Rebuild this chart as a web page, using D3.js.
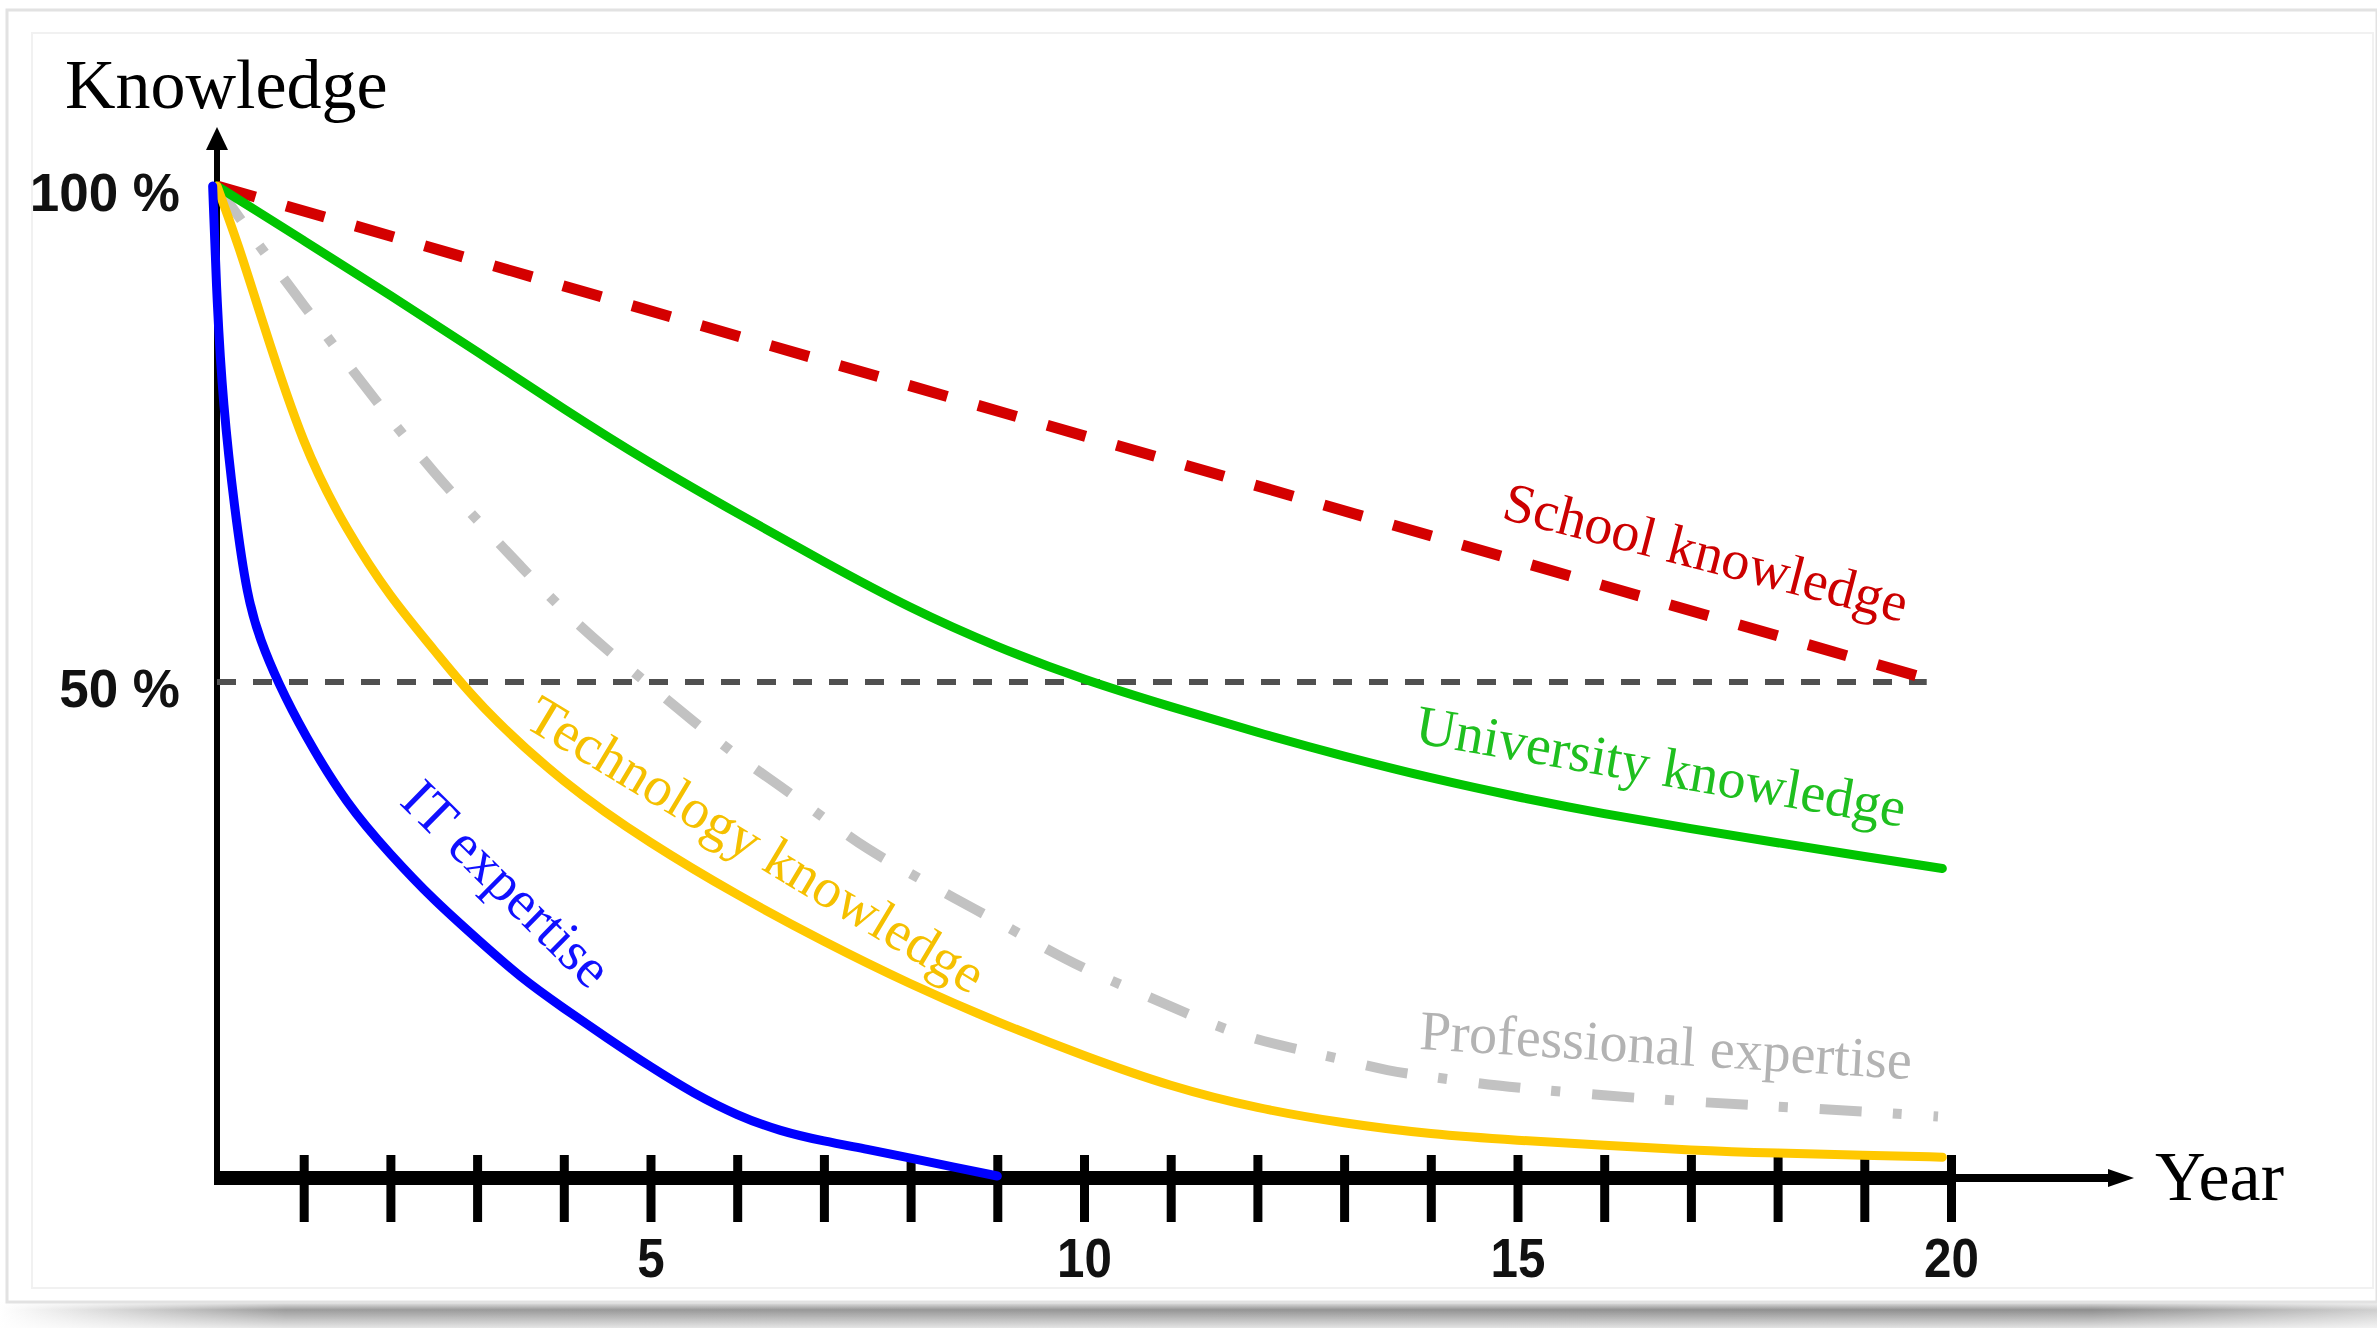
<!DOCTYPE html>
<html><head><meta charset="utf-8">
<script src="https://cdn.jsdelivr.net/npm/d3@7"></script>
<style>
body{margin:0;background:#fff;}
svg{display:block;}
</style>
</head><body>
<svg id="chart" width="2377" height="1328"></svg>
<script>
// ---------- data ----------
const tickYears = d3.range(1, 21);
const yearLabels = [5, 10, 15, 20];
const pctTicks = [100, 50];
const pctLabels = ["100 %", "50 %"];
const seriesNames = ["School knowledge", "University knowledge", "Professional expertise", "Technology knowledge", "IT expertise"];

const schoolYears = [0, 19.65];
const schoolValues = [100, 50.5];

const universityYears = [0,1,2,3,4,5,6,7,8,9,10,11,12,13,14,15,16,17,18,19,19.9];
const universityValues = [100,94.5,89,83.3,77.5,72,67,62.1,57.4,53.5,50.2,47.5,44.9,42.5,40.3,38.4,36.7,35.2,33.8,32.4,31.2];

const professionalYears = [0,0.5,1,1.5,2,2.5,3,3.5,4,4.5,5,5.5,6,6.5,7,7.5,8,8.5,9,9.5,10,10.5,11,11.5,12,12.5,13,13.5,14,14.5,15,16,17,18,19,19.85];
const professionalValues = [100,93.8,88,82.1,76.5,71.1,66.3,61.7,57.1,53.2,49.6,46,42.5,39.5,36.3,33.1,30.7,28.2,25.9,23.4,21.1,19.2,17.3,15.4,13.9,12.9,11.9,10.8,10.2,9.6,9.1,8.3,7.7,7.2,6.7,6.2];

const technologyYears = [0,0.25,0.5,1,1.5,2,2.5,3,4,5,6,7,8,9,10,11,12,13,14,15,16,17,18,19,19.9];
const technologyValues = [100,94,87,73.5,65.2,58.5,53.3,47.8,39.7,33.7,28.5,23.8,19.5,15.7,12.3,9.2,7.0,5.5,4.4,3.8,3.3,2.8,2.5,2.3,2.1];

const itYears = [-0.05,0,0.07,0.2,0.35,0.5,0.7,1,1.5,2,2.5,3,3.5,4,4.5,5,5.5,6,6.5,7,7.5,8,8.5,9];
const itValues = [100,88,78,67.5,58.4,54.2,50,44.8,37.6,32.6,28,24.1,20.2,17.1,14.1,11.2,8.5,6.3,4.7,3.7,2.9,2.0,1.1,0.2];

const refYears = [0, 19.72];
const refValues = [50, 50];

// ---------- setup ----------
const svg = d3.select("#chart");
const W = 2377, H = 1328;
const x = d3.scaleLinear().domain([0, 20]).range([217, 1951]);
const y = d3.scaleLinear().domain([0, 100]).range([1178, 186]);

// card / frame
const defs = svg.append("defs");
const gH = defs.append("linearGradient").attr("id", "shadowH").attr("x1", 0).attr("x2", 1).attr("y1", 0).attr("y2", 0);
gH.append("stop").attr("offset", "0").attr("stop-color", "#ffffff");
gH.append("stop").attr("offset", "0.12").attr("stop-color", "#9c9c9c");
gH.append("stop").attr("offset", "0.88").attr("stop-color", "#8e8e8e");
gH.append("stop").attr("offset", "1").attr("stop-color", "#cfcfcf");
const gV = defs.append("linearGradient").attr("id", "shadowV").attr("x1", 0).attr("x2", 0).attr("y1", 0).attr("y2", 1);
gV.append("stop").attr("offset", "0").attr("stop-color", "#fff").attr("stop-opacity", 1);
gV.append("stop").attr("offset", "0.35").attr("stop-color", "#fff").attr("stop-opacity", 0);
gV.append("stop").attr("offset", "1").attr("stop-color", "#fff").attr("stop-opacity", 0.75);

svg.append("rect").attr("x", 0).attr("y", 0).attr("width", W).attr("height", H).attr("fill", "#fff");
svg.append("rect").attr("x", 0).attr("y", 1300).attr("width", W).attr("height", 28).attr("fill", "url(#shadowH)");
svg.append("rect").attr("x", 0).attr("y", 1300).attr("width", W).attr("height", 28).attr("fill", "url(#shadowV)");
svg.append("rect").attr("x", 7).attr("y", 10).attr("width", W - 7).attr("height", 1292)
  .attr("fill", "#fff").attr("stroke", "#e2e2e2").attr("stroke-width", 3);
svg.append("rect").attr("x", 32).attr("y", 33).attr("width", 2341).attr("height", 1255)
  .attr("fill", "none").attr("stroke", "#f1f1f1").attr("stroke-width", 2);

// ---------- axes ----------
const axisG = svg.append("g");
axisG.append("line").attr("x1", x(0)).attr("x2", x(0)).attr("y1", y(0) + 6).attr("y2", 145)
  .attr("stroke", "#000").attr("stroke-width", 6);
axisG.append("path")
  .attr("d", `M${x(0)},127 L${x(0) - 11},150 L${x(0) + 11},150 Z`).attr("fill", "#000");
axisG.append("line").attr("x1", x(0) - 3).attr("x2", x(20)).attr("y1", y(0)).attr("y2", y(0))
  .attr("stroke", "#000").attr("stroke-width", 14);
axisG.append("line").attr("x1", x(20)).attr("x2", 2115).attr("y1", y(0)).attr("y2", y(0))
  .attr("stroke", "#000").attr("stroke-width", 8);
axisG.append("path")
  .attr("d", `M2134,${y(0)} L2108,${y(0) - 9} L2108,${y(0) + 9} Z`).attr("fill", "#000");

const xAxis = d3.axisBottom(x).tickValues(tickYears).tickSize(67).tickPadding(15)
  .tickFormat(d => yearLabels.includes(d) ? String(d) : "");
const xg = svg.append("g").attr("transform", `translate(0,${y(0) - 23})`).call(xAxis);
xg.select(".domain").remove();
xg.selectAll(".tick line").attr("stroke", "#000").attr("stroke-width", 9);
xg.selectAll(".tick text")
  .attr("font-family", "Arial, 'Liberation Sans', sans-serif")
  .attr("font-weight", "bold").attr("font-size", 56).attr("fill", "#111")
  .attr("transform", "scale(0.88,1)");

svg.append("g").selectAll("text").data(pctTicks).join("text")
  .attr("x", 180).attr("y", d => y(d) + 25)
  .attr("text-anchor", "end")
  .attr("font-family", "Arial, 'Liberation Sans', sans-serif")
  .attr("font-weight", "bold").attr("font-size", 53).attr("fill", "#111")
  .text((d, i) => pctLabels[i]);

svg.append("text").attr("x", 65).attr("y", 108)
  .attr("font-family", "'Times New Roman', 'Liberation Serif', serif")
  .attr("font-size", 70).attr("fill", "#000").text("Knowledge");
svg.append("text").attr("x", 2155).attr("y", 1200)
  .attr("font-family", "'Times New Roman', 'Liberation Serif', serif")
  .attr("font-size", 70).attr("fill", "#000").text("Year");

// ---------- series ----------
const toPts = (xs, vs) => xs.map((d, i) => [d, vs[i]]);
const line = d3.line().x(d => x(d[0])).y(d => y(d[1])).curve(d3.curveBasis);
const straight = d3.line().x(d => x(d[0])).y(d => y(d[1]));

const plot = svg.append("g").attr("fill", "none");

plot.append("path").attr("d", straight(toPts(refYears, refValues)))
  .attr("stroke", "#505050").attr("stroke-width", 6).attr("stroke-dasharray", "19,17");

plot.append("path").attr("d", line(toPts(professionalYears, professionalValues)))
  .attr("stroke", "#c2c2c2").attr("stroke-width", 10).attr("stroke-dasharray", "42,31,9,32");

plot.append("path").attr("d", straight(toPts(schoolYears, schoolValues)))
  .attr("stroke", "#d40000").attr("stroke-width", 11).attr("stroke-dasharray", "40,32");

plot.append("path").attr("d", line(toPts(universityYears, universityValues)))
  .attr("stroke", "#00c400").attr("stroke-width", 9).attr("stroke-linecap", "round");

plot.append("path").attr("d", line(toPts(technologyYears, technologyValues)))
  .attr("stroke", "#ffc800").attr("stroke-width", 9).attr("stroke-linecap", "round");

plot.append("path").attr("d", line(toPts(itYears, itValues)))
  .attr("stroke", "#0000ff").attr("stroke-width", 9).attr("stroke-linecap", "round");

// ---------- labels ----------
const labelCfg = [
  {name: seriesNames[0], yr: 14.8, pct: 66.5, angle: 14.5, color: "#cc0000"},
  {name: seriesNames[1], yr: 13.8, pct: 43.9, angle: 9.8, color: "#1fbf1f"},
  {name: seriesNames[2], yr: 13.86, pct: 13.0, angle: 3.5, color: "#b3b3b3"},
  {name: seriesNames[3], yr: 3.52, pct: 45.6, angle: 31, color: "#f5c000"},
  {name: seriesNames[4], yr: 2.09, pct: 37.8, angle: 44.5, color: "#1010ff"}
];
svg.append("g").selectAll("text").data(labelCfg).join("text")
  .attr("transform", d => `translate(${x(d.yr)},${y(d.pct)}) rotate(${d.angle})`)
  .attr("font-family", "'Times New Roman', 'Liberation Serif', serif")
  .attr("font-size", 56).attr("fill", d => d.color)
  .text(d => d.name);
</script>
</body></html>
